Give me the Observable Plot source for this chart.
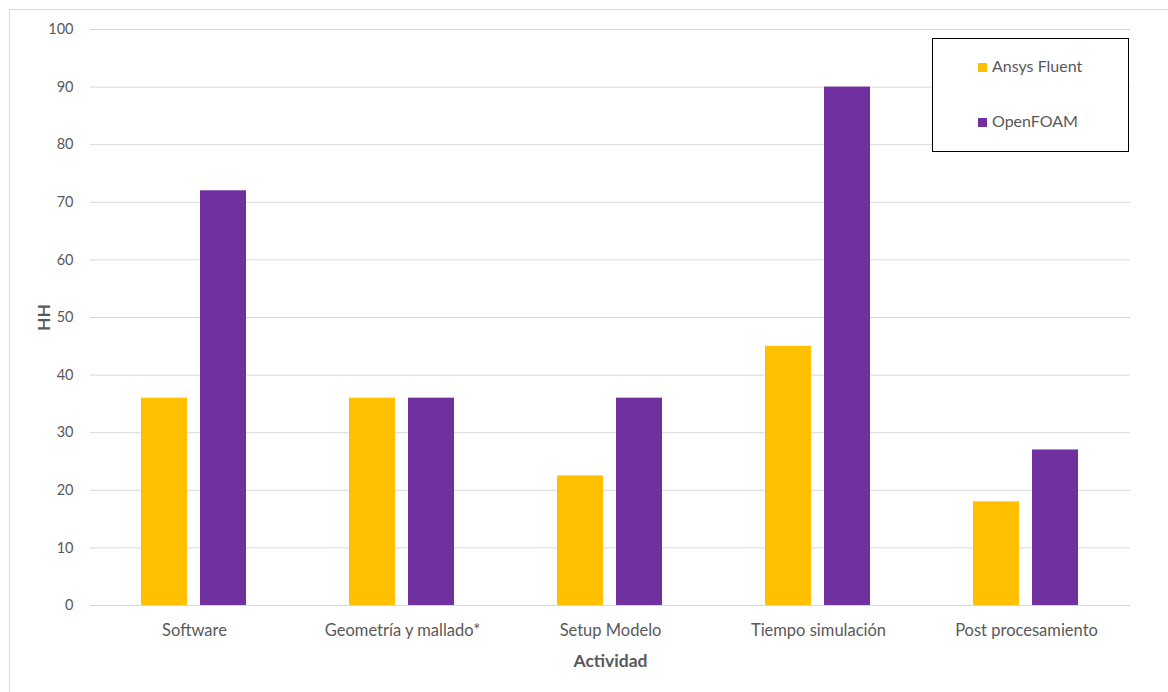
<!DOCTYPE html>
<html>
<head>
<meta charset="utf-8">
<script src="https://cdn.jsdelivr.net/npm/d3@7"></script>
<script src="https://cdn.jsdelivr.net/npm/@observablehq/plot@0.6"></script>
<style>
  html, body { margin: 0; padding: 0; background: #fff; }
  #wrap { position: relative; width: 1168px; height: 692px; overflow: hidden; font-family: Lato, "Open Sans", sans-serif; }
  #frame { position: absolute; left: 9px; top: 9px; width: 1200px; height: 720px; border: 1px solid #d9d9d9; box-sizing: border-box; pointer-events: none; }
  #chart { position: absolute; left: 0; top: 0; }
  #legend { position: absolute; left: 932px; top: 38px; width: 197px; height: 114px; border: 1px solid #000; box-sizing: border-box; background: #fff; }
  .item { position: absolute; left: 45px; font-size: 16px; color: #595959; line-height: 18px; white-space: nowrap; }
  .sw { display: inline-block; width: 9px; height: 9px; margin-right: 5px; vertical-align: 0px; }
  svg [aria-label="y-axis label"] text, svg [aria-label="fx-axis label"] text { font-weight: bold; font-size: 17.5px; }
</style>
</head>
<body>
<div id="wrap">
  <div id="frame"></div>
  <div id="chart"></div>
  <div id="legend"></div>
</div>
<script>
const categories = ["Software", "Geometría y mallado*", "Setup Modelo", "Tiempo simulación", "Post procesamiento"];
const series = ["Ansys Fluent", "OpenFOAM"];
const ansysFluent = [36, 36, 22.5, 45, 18];
const openFOAM = [72, 36, 36, 90, 27];
const yTicks = [0, 10, 20, 30, 40, 50, 60, 70, 80, 90, 100];
const colors = ["#FFC000", "#7030A0"];

const data = [];
categories.forEach((c, i) => {
  data.push({cat: c, series: series[0], value: ansysFluent[i]});
  data.push({cat: c, series: series[1], value: openFOAM[i]});
});

const chart = Plot.plot({
  width: 1168,
  height: 692,
  marginLeft: 90,
  marginRight: 38,
  marginTop: 29,
  marginBottom: 87,
  style: {fontFamily: "Lato, 'Open Sans', sans-serif", fontSize: "14.5px", color: "#595959", background: "transparent"},
  fx: {domain: categories, padding: 0, label: null},
  x: {domain: series, paddingInner: 0.217, paddingOuter: 0.842, axis: null},
  y: {domain: [0, 100], label: null},
  color: {domain: series, range: colors},
  marks: [
    Plot.gridY(yTicks, {stroke: "#d9d9d9", strokeOpacity: 1}),
    Plot.barY(data, {fx: "cat", x: "series", y: "value", fill: "series"}),
    Plot.axisY(yTicks, {tickSize: 0, tickPadding: 17, fontSize: 14.5, fill: "#595959", label: "HH", labelAnchor: "center", labelArrow: "none", labelOffset: 53}),
    Plot.axisFx({anchor: "bottom", tickSize: 0, tickPadding: 19, fontSize: 16.5, fill: "#595959", label: "Actividad", labelAnchor: "center", labelArrow: "none", labelOffset: 61})
  ]
});
document.getElementById("chart").appendChild(chart);

const legend = document.getElementById("legend");
series.forEach((s, i) => {
  const d = document.createElement("div");
  d.className = "item";
  d.style.top = (i === 0 ? 18 : 73) + "px";
  d.innerHTML = `<span class="sw" style="background:${colors[i]}"></span>${s}`;
  legend.appendChild(d);
});
</script>
</body>
</html>
